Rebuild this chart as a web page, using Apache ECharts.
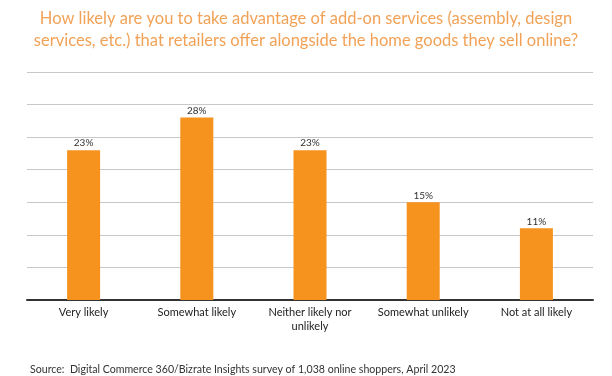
<!DOCTYPE html>
<html>
<head>
<meta charset="utf-8">
<script src="https://cdn.jsdelivr.net/npm/echarts@6/dist/echarts.min.js"></script>
<style>
  html, body { margin: 0; padding: 0; background: #fff; }
  #chart { width: 612px; height: 376px; }
</style>
</head>
<body>
<div id="chart"></div>
<script>
const categories = ['Very likely', 'Somewhat likely', 'Neither likely nor\nunlikely', 'Somewhat unlikely', 'Not at all likely']
const shares = [23, 28, 23, 15, 11]

const chart = echarts.init(document.getElementById('chart'))
chart.setOption({
  animation: false,
  textStyle: { fontFamily: 'Lato' },
  title: [{
    text: 'How likely are you to take advantage of add-on services (assembly, design\nservices, etc.) that retailers offer alongside the home goods they sell online?',
    left: 'center',
    top: 3,
    textStyle: {
      color: '#F2A257',
      fontSize: 16.5,
      fontWeight: 'normal',
      fontFamily: 'Lato',
      lineHeight: 22,
      align: 'center'
    }
  }, {
    text: 'Source:  Digital Commerce 360/Bizrate Insights survey of 1,038 online shoppers, April 2023',
    left: 25,
    top: 359,
    textStyle: {
      color: '#333',
      fontSize: 10.6,
      fontWeight: 'normal',
      fontFamily: 'Lato'
    }
  }],
  grid: {
    left: 27,
    right: 19,
    top: 72,
    bottom: 76
  },
  xAxis: {
    type: 'category',
    data: categories,
    axisLine: { lineStyle: { color: '#333', width: 2 } },
    axisTick: { show: false },
    axisLabel: {
      color: '#222',
      fontSize: 11,
      fontFamily: 'Lato',
      lineHeight: 14,
      margin: 5,
      interval: 0
    }
  },
  yAxis: {
    type: 'value',
    min: 0,
    max: 35,
    interval: 5,
    axisLabel: { show: false },
    axisLine: { show: false },
    axisTick: { show: false },
    splitLine: { lineStyle: { color: '#c8c8c8', width: 1 } }
  },
  series: [{
    type: 'bar',
    data: shares,
    barWidth: 33,
    itemStyle: { color: '#F6921E' },
    label: {
      show: true,
      position: 'top',
      formatter: '{c}%',
      color: '#333',
      fontSize: 10,
      fontFamily: 'Lato',
      distance: 2
    }
  }]
})
</script>
</body>
</html>
